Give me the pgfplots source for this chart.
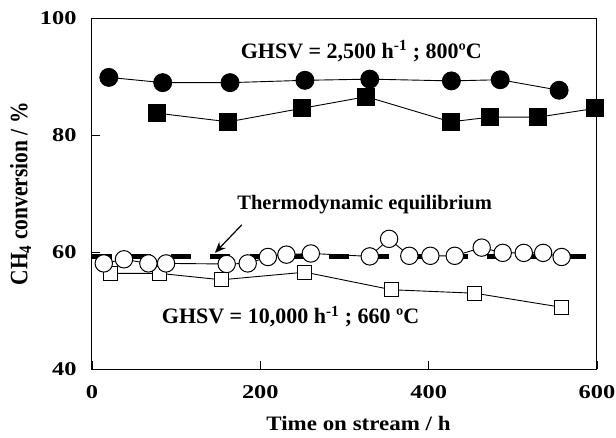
\documentclass[border=0pt]{standalone}
\usepackage{fontspec}
\setmainfont{Liberation Serif}
\newfontfamily\tickfamily{Liberation Serif}[FakeStretch=1.25]
\newfontfamily\xlabfamily{Liberation Serif}[FakeStretch=1.12]
\newfontfamily\ylabfamily{Liberation Serif}[FakeStretch=0.86]
\usepackage{pgfplots}
\pgfplotsset{compat=1.18}
\usetikzlibrary{arrows.meta}

\newcommand{\ticksize}{\tickfamily\fontsize{19.5}{20}\selectfont\bfseries}
\newcommand{\xlabsize}{\xlabfamily\fontsize{20.5}{22}\selectfont\bfseries}
\newcommand{\ylabsize}{\ylabfamily\fontsize{25}{26}\selectfont\bfseries}
\newcommand{\notesize}{\fontsize{20.5}{22}\selectfont\bfseries}
\newcommand{\ghsvsize}{\fontsize{22}{24}\selectfont\bfseries}

\begin{document}
\begin{tikzpicture}
\useasboundingbox (-92pt,-68.7pt) rectangle (524pt,369.3pt);
\begin{axis}[
  scale only axis,
  width=505pt, height=351pt,
  xmin=0, xmax=600, ymin=40, ymax=100,
  xtick={0,200,400,600}, ytick={40,60,80,100},
  minor tick num=0,
  tick align=inside,
  xtick pos=bottom, ytick pos=left,
  major tick length=8pt,
  tick style={black, line width=0.8pt},
  axis line style={black, line width=1pt},
  /pgf/number format/assume math mode=true,
  xticklabel={\pgfmathprintnumber{\tick}},
  yticklabel={\pgfmathprintnumber{\tick}},
  ticklabel style={font=\ticksize},
  yticklabel style={xshift=-12pt},
  xticklabel style={yshift=-13pt},
  xlabel={Time on stream / h},
  ylabel={CH\textsubscript{4} conversion / \%},
  xlabel style={font=\xlabsize, yshift=-13pt, xshift=14pt, inner sep=1pt},
  ylabel style={font=\ylabsize, yshift=2pt},
  clip=false,
]

% thermodynamic equilibrium level
\addplot[black, line width=4.5pt, dash pattern=on 20pt off 19.5pt, forget plot]
  coordinates {(0,59.3) (604,59.3)};

% GHSV = 10,000 h-1, 660 C : open squares
\addplot[black, line width=0.9pt, mark=square*, mark size=7pt,
  mark options={fill=white, line width=1pt}]
  coordinates {(22,56.4) (80,56.4) (154,55.3) (253,56.6) (356,53.6) (455,53.0) (558,50.6)};

% open circles
\addplot[black, line width=0.9pt, mark=*, mark size=8.7pt,
  mark options={fill=white, line width=1pt}]
  coordinates {(14,58.1) (38,58.8) (67,58.1) (88,58.1) (160,58.0) (185,58.1)
               (209,59.2) (231,59.6) (260,59.8) (330,59.3) (353,62.3) (377,59.4)
               (402,59.4) (431,59.4) (463,60.8) (488,59.9) (513,59.9) (536,59.9)
               (558,59.2)};

% GHSV = 2,500 h-1, 800 C : filled circles
\addplot[black, line width=0.9pt, mark=*, mark size=9pt, mark options={fill=black}]
  coordinates {(20,89.9) (84,89.0) (164,89.0) (253,89.4) (330,89.6) (427,89.3)
               (485,89.5) (555,87.7)};

% filled squares
\addplot[black, line width=0.9pt, mark=square*, mark size=8.5pt, mark options={fill=black}]
  coordinates {(77,83.8) (162,82.3) (249,84.6) (326,86.6) (426,82.3) (473,83.1)
               (530,83.1) (598,84.6)};

\node[font=\ghsvsize] at (axis cs:320,94.4) {GHSV = 2,500 h\textsuperscript{-1} ; 800ºC};
\node[font=\notesize] at (axis cs:324,68.1) {Thermodynamic equilibrium};
\node[font=\ghsvsize] at (axis cs:236,49.0) {GHSV = 10,000 h\textsuperscript{-1} ; 660 ºC};
\draw[-{Stealth[length=11pt,width=9pt]}, line width=1.2pt]
  (axis cs:178,64.7) -- (axis cs:146,59.9);

\end{axis}
\end{tikzpicture}
\end{document}
